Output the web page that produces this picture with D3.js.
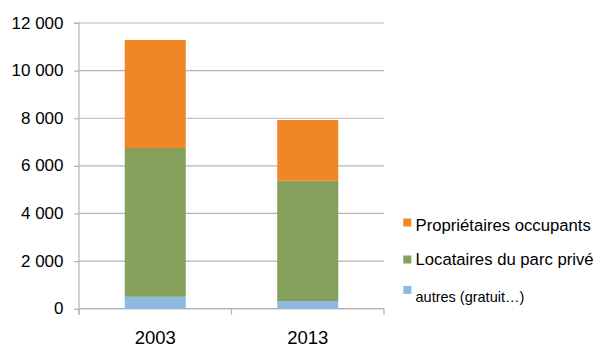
<!DOCTYPE html>
<html><head><meta charset="utf-8">
<script src="https://cdn.jsdelivr.net/npm/d3@7"></script>
<style>body{margin:0;background:#fff}svg{display:block;font-family:"Liberation Sans",Arial,sans-serif}</style>
</head><body><svg id="c" width="596" height="347"></svg>
<script>
const categories = ["2003", "2013"];
const autres = [500, 320];
const locataires = [6250, 5055];
const proprietaires = [4535, 2550];
const seriesNames = ["autres (gratuit…)", "Locataires du parc privé", "Propriétaires occupants"];
const yTicks = [0, 2000, 4000, 6000, 8000, 10000, 12000];
const colors = ["#8DB9E2", "#84A05A", "#F08626"];

const svg = d3.select("#c");
const x0 = 79, x1 = 384, yTop = 23, yBot = 308.7;
const x = d3.scaleBand().domain(categories).range([x0, x1]).paddingInner(0.6).paddingOuter(0.3);
const y = d3.scaleLinear().domain([0, 12000]).range([yBot, yTop]);

const rows = categories.map((c, i) => ({cat: c, a: autres[i], l: locataires[i], p: proprietaires[i]}));
const stack = d3.stack().keys(["a", "l", "p"])(rows);

// gridlines
svg.append("g").selectAll("line").data(yTicks).join("line")
  .attr("x1", x0).attr("x2", x1).attr("y1", d => y(d)).attr("y2", d => y(d))
  .attr("stroke", "#B3B3B3").attr("stroke-width", 1.2);

// y axis
const ya = svg.append("g").attr("transform", `translate(${x0},0)`)
  .call(d3.axisLeft(y).tickValues(yTicks).tickSize(5).tickFormat(d => d3.format(",")(d).replace(/,/g, " ")));
ya.select(".domain").attr("stroke", "#B3B3B3").attr("stroke-width", 1.2).attr("d", `M-5,${yTop}H0V${yBot + 6}`);
ya.selectAll(".tick line").attr("stroke", "#B3B3B3").attr("stroke-width", 1.2);
ya.selectAll(".tick text").attr("font-size", 17).attr("fill", "#000").attr("x", -15.5).attr("dy", "0.3em")
  .attr("font-family", "Liberation Sans, Arial, sans-serif");

// x axis ticks at band boundaries
const bounds = [x0, (x(categories[0]) + x.bandwidth() + x(categories[1])) / 2, x1];
svg.append("line").attr("x1", x0).attr("x2", x1).attr("y1", yBot).attr("y2", yBot).attr("stroke", "#B3B3B3").attr("stroke-width", 1.2);
svg.append("g").selectAll("line").data(bounds).join("line")
  .attr("x1", d => d).attr("x2", d => d).attr("y1", yBot).attr("y2", yBot + 6)
  .attr("stroke", "#B3B3B3").attr("stroke-width", 1.2);
svg.append("g").selectAll("text").data(categories).join("text")
  .attr("x", d => x(d) + x.bandwidth() / 2).attr("y", 343.5).attr("text-anchor", "middle")
  .attr("font-size", 18.5).text(d => d);

// bars
svg.append("g").selectAll("g").data(stack).join("g").attr("fill", (d, i) => colors[i])
  .selectAll("rect").data(d => d).join("rect")
  .attr("x", d => x(d.data.cat)).attr("width", x.bandwidth())
  .attr("y", d => y(d[1])).attr("height", d => y(d[0]) - y(d[1]));

// legend
const leg = [
  {name: seriesNames[2], color: colors[2], y: 230.5, sq: 218.5, fs: 16.7},
  {name: seriesNames[1], color: colors[1], y: 265, sq: 255.5, fs: 16.7},
  {name: seriesNames[0], color: colors[0], y: 301.5, sq: 286, fs: 14.5}
];
const lg = svg.append("g");
leg.forEach(d => {
  lg.append("rect").attr("x", 403.3).attr("y", d.sq).attr("width", 8).attr("height", 8).attr("fill", d.color);
  lg.append("text").attr("x", 415.5).attr("y", d.y).attr("font-size", d.fs).text(d.name);
});
</script></body></html>
